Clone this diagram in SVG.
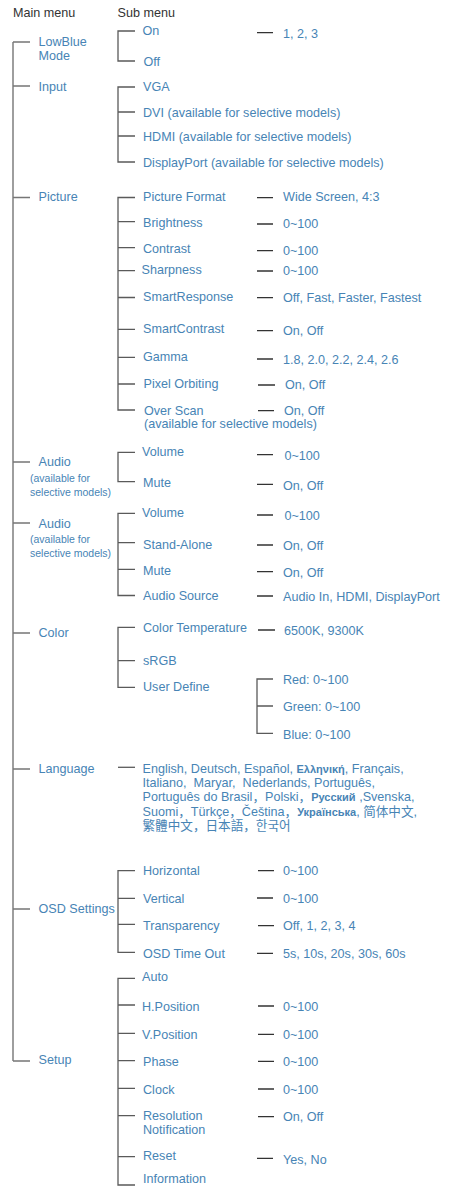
<svg xmlns="http://www.w3.org/2000/svg" width="449" height="1187" viewBox="0 0 449 1187">
<style>
text{font-family:"Liberation Sans","Noto Sans CJK SC",sans-serif;font-size:12.6px;fill:#4784b5}
.h{fill:#333}
.s{font-size:10.5px}
.g{font-size:11px;font-weight:bold}
.tree{stroke:#767676;stroke-width:1.4;fill:none}
.sub{stroke:#5a5a5a;stroke-width:1.3;fill:none}
.val{stroke:#333;stroke-width:1.3;fill:none}
</style>
<rect width="449" height="1187" fill="#fff"/>
<g id="headers">
<text class="h" x="13" y="16.5">Main menu</text>
<text class="h" x="117.5" y="16.5">Sub menu</text>
</g>
<g id="connectors">
<path class="tree" d="M13 42V1061M13 42H30M13 86H30M13 197.5H30M13 462H30M13 523H30M13 633H30M13 769H30M13 909H30M13 1061H30"/>
<path class="sub" d="M135 31H118V61H135"/>
<path class="sub" d="M135 87H118V162H135M118 112H135M118 136H135"/>
<path class="sub" d="M135 197.5H118V410H135M118 221.7H135M118 247.7H135M118 270.7H135M118 297.5H135M118 329.3H135M118 357.3H135M118 384H135"/>
<path class="sub" d="M135 452.3H118V481.7H135"/>
<path class="sub" d="M135 513.3H118V595.5H135M118 542.7H135M118 569.3H135"/>
<path class="sub" d="M135 627.3H118V687.3H135M118 660.7H135"/>
<path class="sub" d="M118 767.3H135"/>
<path class="sub" d="M135 870.7H118V952.3H135M118 898.3H135M118 924.3H135"/>
<path class="sub" d="M135 978.3H118V1185H135M118 1005H135M118 1033.3H135M118 1060.7H135M118 1088.3H135M118 1115.7H135M118 1156.7H135"/>
<path class="sub" d="M273 679H257V733.3H273M257 706H273"/>
<path class="val" d="M257 32.7H273M257 197.6H273M257 224H273M257 250.7H273M257 271H273M257 297.6H273M257 330.7H273M257 359H273M258 385H275M258 410.7H274M257 454.7H273M257 484.3H273M257 515H273M257 545H273M257 571.7H273M257 596H273M258 630H275M258 870.7H274M257 898H273M258 925.7H274M257 953.3H273M258 1006H274M258 1034.3H274M258 1061.3H274M258 1089H274M258 1116.7H274M257 1158.3H273"/>
</g>
<g id="lowblue">
<text x="38.5" y="45.5">LowBlue</text><text x="38.5" y="60">Mode</text>
<text x="142.5" y="35">On</text><text x="143.5" y="66">Off</text>
<text x="283" y="38">1, 2, 3</text>
</g>
<g id="input">
<text x="38.5" y="91">Input</text>
<text x="143" y="91">VGA</text>
<text x="143" y="117">DVI (available for selective models)</text>
<text x="143" y="141">HDMI (available for selective models)</text>
<text x="143" y="166.5">DisplayPort (available for selective models)</text>
</g>
<g id="picture">
<text x="38.5" y="200.5">Picture</text>
<text x="143" y="200.5">Picture Format</text><text x="283" y="201">Wide Screen, 4:3</text>
<text x="143" y="227">Brightness</text><text x="283" y="228">0~100</text>
<text x="143" y="253">Contrast</text><text x="283" y="254.5">0~100</text>
<text x="141.5" y="274">Sharpness</text><text x="283" y="275">0~100</text>
<text x="143" y="301">SmartResponse</text><text x="283" y="302">Off, Fast, Faster, Fastest</text>
<text x="143" y="333">SmartContrast</text><text x="283" y="335">On, Off</text>
<text x="143" y="361">Gamma</text><text x="283" y="363.5">1.8, 2.0, 2.2, 2.4, 2.6</text>
<text x="143.5" y="388">Pixel Orbiting</text><text x="285" y="389">On, Off</text>
<text x="144" y="414.5">Over Scan</text><text x="144" y="428">(available for selective models)</text><text x="284" y="415">On, Off</text>
</g>
<g id="audio1">
<text x="38.5" y="466">Audio</text>
<text class="s" x="30" y="482">(available for</text>
<text class="s" x="30" y="495.5">selective models)</text>
<text x="142" y="456">Volume</text><text x="284.5" y="460">0~100</text>
<text x="143" y="487">Mute</text><text x="283" y="490">On, Off</text>
</g>
<g id="audio2">
<text x="38.5" y="527.5">Audio</text>
<text class="s" x="30" y="543">(available for</text>
<text class="s" x="30" y="556.5">selective models)</text>
<text x="142" y="517">Volume</text><text x="284.5" y="520">0~100</text>
<text x="143" y="548.5">Stand-Alone</text><text x="283" y="550">On, Off</text>
<text x="143" y="574.5">Mute</text><text x="283" y="577">On, Off</text>
<text x="143" y="600">Audio Source</text><text x="283" y="600.5">Audio In, HDMI, DisplayPort</text>
</g>
<g id="color">
<text x="38.5" y="637">Color</text>
<text x="143" y="632">Color Temperature</text><text x="284" y="635">6500K, 9300K</text>
<text x="143" y="664.5">sRGB</text>
<text x="143" y="691">User Define</text>
<text x="283" y="683.5">Red: 0~100</text>
<text x="283" y="711">Green: 0~100</text>
<text x="283" y="739">Blue: 0~100</text>
</g>
<g id="language">
<text x="38.5" y="773">Language</text>
<text x="142.5" y="773">English, Deutsch, Español, <tspan class="g">Ελληνική</tspan>, Français,</text>
<text x="142.5" y="787">Italiano,&#160; Maryar,&#160; Nederlands, Português,</text>
<text x="142.5" y="801">Português do Brasil，Polski，<tspan class="g">Русский</tspan> ,Svenska,</text>
<text x="142.5" y="815.5">Suomi，Türkçe，Čeština，<tspan class="g">Українська</tspan>, 简体中文,</text>
<text x="142.5" y="830">繁體中文，日本語，한국어</text>
</g>
<g id="osd">
<text x="38.5" y="912.5">OSD Settings</text>
<text x="143" y="875">Horizontal</text><text x="283" y="875">0~100</text>
<text x="143" y="902.5">Vertical</text><text x="283" y="903">0~100</text>
<text x="143" y="930">Transparency</text><text x="283" y="930">Off, 1, 2, 3, 4</text>
<text x="143" y="958">OSD Time Out</text><text x="283" y="958">5s, 10s, 20s, 30s, 60s</text>
</g>
<g id="setup">
<text x="38.5" y="1064">Setup</text>
<text x="142" y="981">Auto</text>
<text x="142" y="1011">H.Position</text><text x="283" y="1011">0~100</text>
<text x="142" y="1039">V.Position</text><text x="283" y="1039">0~100</text>
<text x="143" y="1066">Phase</text><text x="283" y="1066">0~100</text>
<text x="143" y="1094">Clock</text><text x="283" y="1093.5">0~100</text>
<text x="143" y="1119.5">Resolution</text><text x="143" y="1134">Notification</text><text x="283" y="1121">On, Off</text>
<text x="143" y="1159.5">Reset</text><text x="283" y="1164">Yes, No</text>
<text x="143" y="1183">Information</text>
</g>
</svg>
